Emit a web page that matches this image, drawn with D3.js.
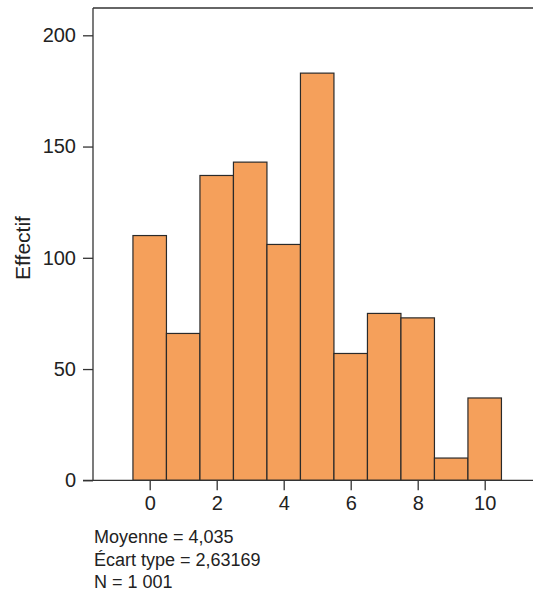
<!DOCTYPE html>
<html>
<head>
<meta charset="utf-8">
<script src="https://cdn.jsdelivr.net/npm/d3@7"></script>
<style>
  html, body { margin: 0; padding: 0; background: #fff; }
  svg { display: block; }
  text { font-family: "Liberation Sans", Arial, Helvetica, sans-serif; fill: #222; }
</style>
</head>
<body>
<svg id="chart" width="533" height="591"></svg>
<script>
// Histogram bins (integer scores 0–10) and their counts
const binValues = [0, 1, 2, 3, 4, 5, 6, 7, 8, 9, 10];
const counts = [110, 66, 137, 143, 106, 183, 57, 75, 73, 10, 37];
const xTickValues = [0, 2, 4, 6, 8, 10];
const yTickValues = [0, 50, 100, 150, 200];
const yTitle = "Effectif";
const statsLines = ["Moyenne = 4,035", "Écart type = 2,63169", "N = 1 001"];

const svg = d3.select("#chart");
const W = 533;
const frameLeft = 93, frameTop = 8, baseY = 480.3;

const x = d3.scaleLinear().domain([0, 10]).range([149.7, 484.7]);
const y = d3.scaleLinear().domain([0, 200]).range([baseY, 35.3]);

// Bars
svg.append("g")
  .selectAll("rect")
  .data(binValues.map((v, i) => ({ v, n: counts[i] })))
  .join("rect")
  .attr("x", d => x(d.v - 0.5))
  .attr("width", d => x(d.v + 0.5) - x(d.v - 0.5))
  .attr("y", d => y(d.n))
  .attr("height", d => y(0) - y(d.n))
  .attr("fill", "#F5A05B")
  .attr("stroke", "#2a2a2a")
  .attr("stroke-width", 1.2);

// Y axis
const yAxis = svg.append("g")
  .attr("transform", `translate(${frameLeft},0)`)
  .call(d3.axisLeft(y).tickValues(yTickValues).tickSize(10).tickPadding(7).tickFormat(d3.format("d")));
yAxis.select(".domain").remove();
yAxis.selectAll("line").attr("stroke", "#333").attr("stroke-width", 1.3);
yAxis.selectAll("text").style("font-size", "20px").attr("fill", "#222")
  .attr("font-family", "Liberation Sans, Arial, sans-serif");

// X axis
const xAxis = svg.append("g")
  .attr("transform", `translate(0,${baseY})`)
  .call(d3.axisBottom(x).tickValues(xTickValues).tickSize(10).tickPadding(6).tickFormat(d3.format("d")));
xAxis.select(".domain").remove();
xAxis.selectAll("line").attr("stroke", "#333").attr("stroke-width", 1.3);
xAxis.selectAll("text").style("font-size", "20px").attr("fill", "#222")
  .attr("font-family", "Liberation Sans, Arial, sans-serif");

// Frame: top line, left axis line, baseline
const frame = svg.append("g").attr("stroke", "#333").attr("stroke-width", 1.3).attr("fill", "none");
frame.append("line").attr("x1", frameLeft).attr("x2", W).attr("y1", frameTop).attr("y2", frameTop);
frame.append("line").attr("x1", frameLeft).attr("x2", frameLeft).attr("y1", frameTop).attr("y2", baseY);
frame.append("line").attr("x1", frameLeft - 10).attr("x2", W).attr("y1", baseY).attr("y2", baseY);

// Y title
svg.append("text")
  .attr("transform", "translate(30,248) rotate(-90)")
  .attr("text-anchor", "middle")
  .style("font-size", "21px")
  .text(yTitle);

// Summary statistics
svg.append("g")
  .selectAll("text")
  .data(statsLines)
  .join("text")
  .attr("x", 94)
  .attr("y", (d, i) => 543 + i * 22.6)
  .style("font-size", "18px")
  .text(d => d);
</script>
</body>
</html>
